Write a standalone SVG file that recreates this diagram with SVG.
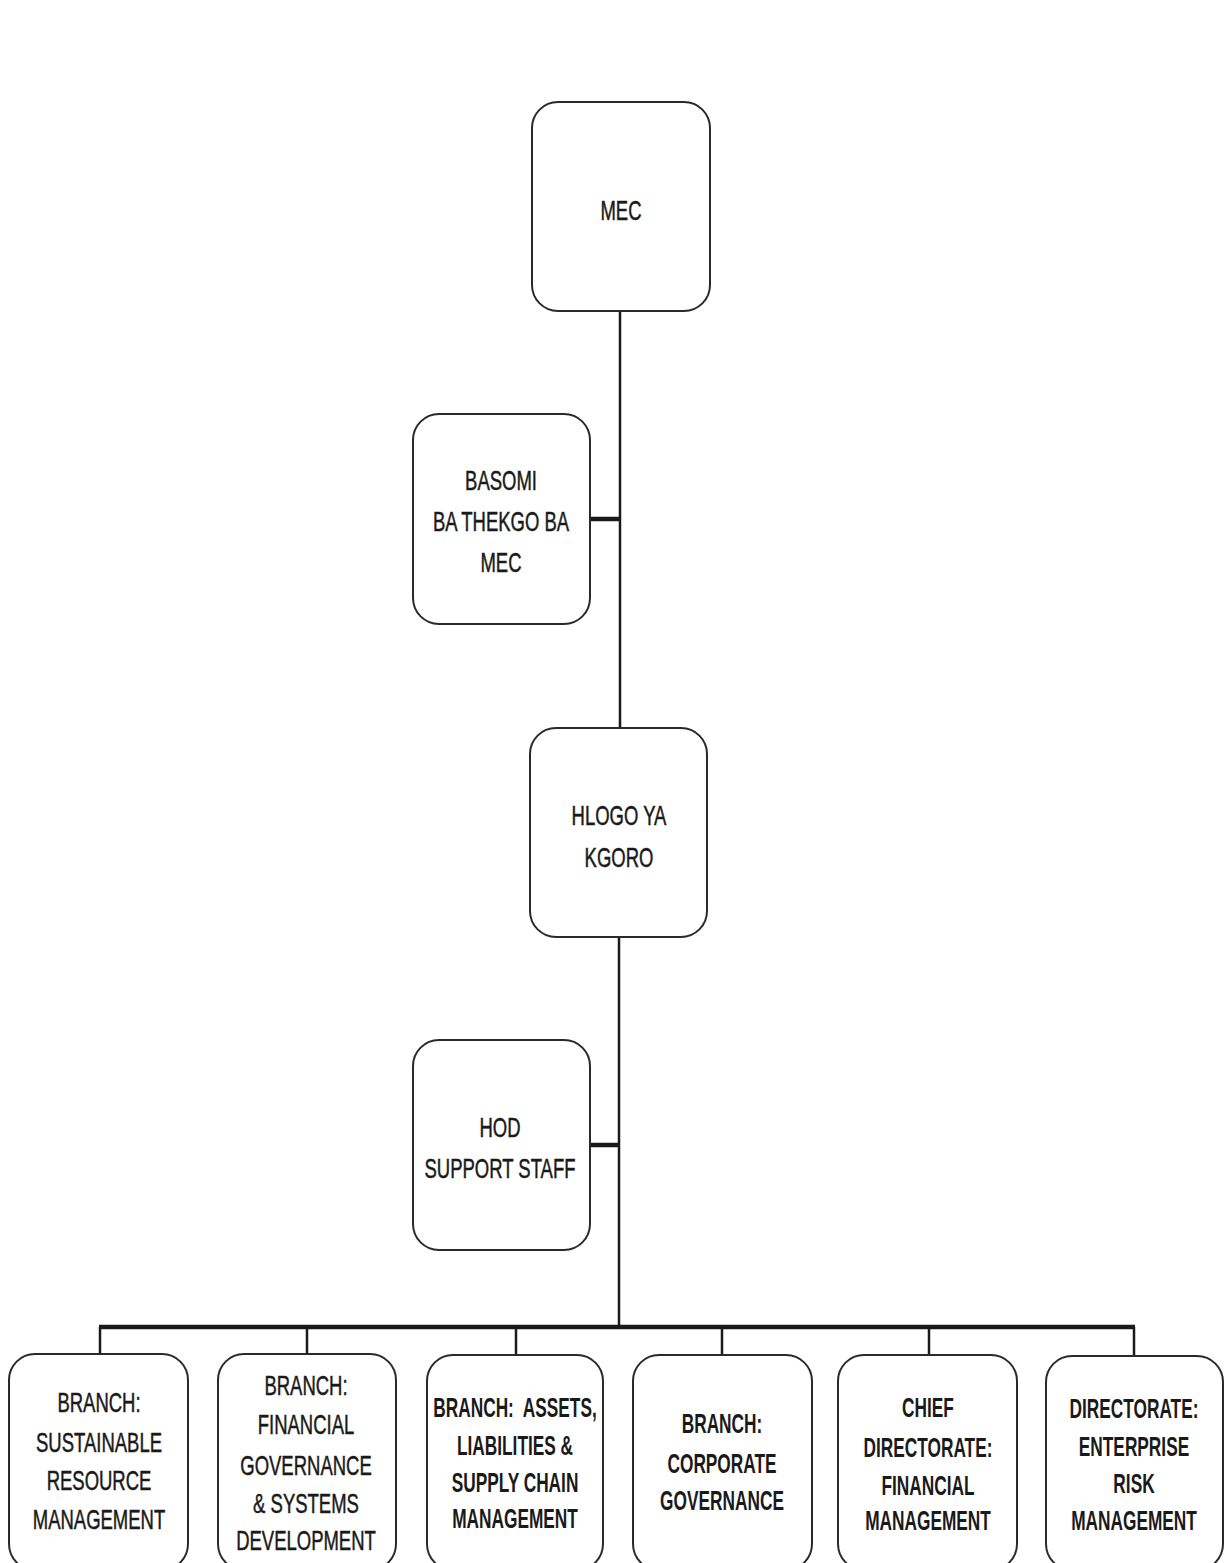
<svg xmlns="http://www.w3.org/2000/svg" width="1227" height="1563" viewBox="0 0 1227 1563">
<style>
.box{fill:#fff;stroke:#2a2a2a;stroke-width:2}
.t{font-family:"Liberation Sans",Arial,sans-serif;font-size:28px;fill:#1a1a1a;stroke:#1a1a1a;stroke-width:0.5;text-anchor:middle}
.b{font-family:"Liberation Sans",Arial,sans-serif;font-size:27px;font-weight:bold;fill:#1a1a1a;text-anchor:middle}
.ln{stroke:#1a1a1a;stroke-width:2.5;fill:none}
.thick{stroke:#1a1a1a;stroke-width:4.5;fill:none}
</style>
<rect width="1227" height="1563" fill="#fff"/>
<g id="connectors">
<line class="ln" x1="620" y1="311" x2="620" y2="728"/>
<line class="thick" x1="590" y1="519" x2="621" y2="519"/>
<line class="ln" x1="619" y1="937" x2="619" y2="1328"/>
<line class="thick" x1="590" y1="1145" x2="620" y2="1145"/>
<line class="thick" x1="99" y1="1327" x2="1135" y2="1327"/>
<line class="ln" x1="100" y1="1327" x2="100" y2="1354"/>
<line class="ln" x1="307" y1="1327" x2="307" y2="1354"/>
<line class="ln" x1="516" y1="1327" x2="516" y2="1355"/>
<line class="ln" x1="722" y1="1327" x2="722" y2="1355"/>
<line class="ln" x1="929" y1="1327" x2="929" y2="1355"/>
<line class="ln" x1="1134" y1="1327" x2="1134" y2="1355"/>
</g>
<g id="mec">
<rect class="box" x="532" y="102" width="178" height="209" rx="26"/>
<g transform="translate(621 0) scale(0.66 1)"><text class="t" x="0" y="220">MEC</text></g>
</g>
<g id="basomi">
<rect class="box" x="413" y="414" width="177" height="210" rx="26"/>
<g transform="translate(501 0) scale(0.66 1)"><text class="t" x="0" y="490">BASOMI</text><text class="t" x="0" y="531">BA THEKGO BA</text><text class="t" x="0" y="572">MEC</text></g>
</g>
<g id="hlogo">
<rect class="box" x="530" y="728" width="177" height="209" rx="26"/>
<g transform="translate(619 0) scale(0.66 1)"><text class="t" x="0" y="825">HLOGO YA</text><text class="t" x="0" y="867">KGORO</text></g>
</g>
<g id="hod">
<rect class="box" x="413" y="1040" width="177" height="210" rx="26"/>
<g transform="translate(500 0) scale(0.66 1)"><text class="t" x="0" y="1137">HOD</text><text class="t" x="0" y="1178">SUPPORT STAFF</text></g>
</g>
<g id="b1">
<rect class="box" x="9" y="1354" width="179" height="216" rx="26"/>
<g transform="translate(99 0) scale(0.66 1)"><text class="t" x="0" y="1412">BRANCH:</text><text class="t" x="0" y="1452">SUSTAINABLE</text><text class="t" x="0" y="1490">RESOURCE</text><text class="t" x="0" y="1529">MANAGEMENT</text></g>
</g>
<g id="b2">
<rect class="box" x="218" y="1354" width="178" height="216" rx="26"/>
<g transform="translate(306 0) scale(0.66 1)"><text class="t" x="0" y="1395">BRANCH:</text><text class="t" x="0" y="1434">FINANCIAL</text><text class="t" x="0" y="1475">GOVERNANCE</text><text class="t" x="0" y="1513">&amp; SYSTEMS</text><text class="t" x="0" y="1550">DEVELOPMENT</text></g>
</g>
<g id="b3">
<rect class="box" x="427" y="1355" width="176" height="215" rx="26"/>
<g transform="translate(515 0) scale(0.64 1)"><text class="b" x="0" y="1417" xml:space="preserve">BRANCH:  ASSETS,</text><text class="b" x="0" y="1455">LIABILITIES &amp;</text><text class="b" x="0" y="1492">SUPPLY CHAIN</text><text class="b" x="0" y="1528">MANAGEMENT</text></g>
</g>
<g id="b4">
<rect class="box" x="633" y="1355" width="179" height="215" rx="26"/>
<g transform="translate(722 0) scale(0.64 1)"><text class="b" x="0" y="1433">BRANCH:</text><text class="b" x="0" y="1473">CORPORATE</text><text class="b" x="0" y="1510">GOVERNANCE</text></g>
</g>
<g id="b5">
<rect class="box" x="838" y="1355" width="179" height="215" rx="26"/>
<g transform="translate(928 0) scale(0.64 1)"><text class="b" x="0" y="1417">CHIEF</text><text class="b" x="0" y="1457">DIRECTORATE:</text><text class="b" x="0" y="1495">FINANCIAL</text><text class="b" x="0" y="1530">MANAGEMENT</text></g>
</g>
<g id="b6">
<rect class="box" x="1046" y="1356" width="177" height="214" rx="26"/>
<g transform="translate(1134 0) scale(0.64 1)"><text class="b" x="0" y="1418">DIRECTORATE:</text><text class="b" x="0" y="1456">ENTERPRISE</text><text class="b" x="0" y="1493">RISK</text><text class="b" x="0" y="1530">MANAGEMENT</text></g>
</g>
</svg>
